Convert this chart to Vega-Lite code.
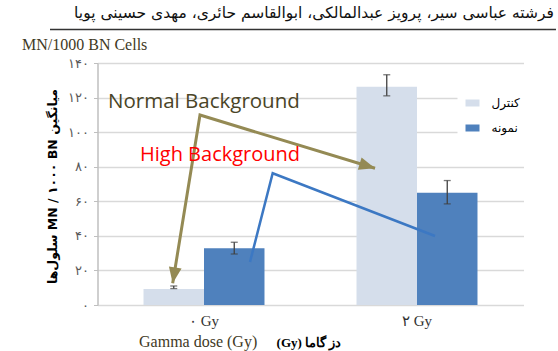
{
  "$schema": "https://vega.github.io/schema/vega-lite/v6.json",
  "width": 426,
  "height": 242,
  "autosize": {"type": "none"},
  "padding": {"left": 97.5, "top": 63, "right": 34.5, "bottom": 46},
  "background": "white",
  "config": {
    "view": {"stroke": null},
    "font": "DejaVu Sans",
    "axisY": {
      "values": [0, 20, 40, 60, 80, 100, 120, 140],
      "labelOverlap": false,
      "labelExpr": "['۰','۲۰','۴۰','۶۰','۸۰','۱۰۰','۱۲۰','۱۴۰'][round(datum.value/20)]",
      "labelFont": "DejaVu Sans", "labelFontSize": 13, "labelColor": "#595959", "labelPadding": 5,
      "tickSize": 4, "tickColor": "#bfbfbf", "domainColor": "#bfbfbf", "domainWidth": 1.5,
      "gridColor": "#d9d9d9", "gridWidth": 1.5,
      "titleFont": "DejaVu Sans", "titleFontWeight": "bold", "titleFontSize": 12.5, "titleColor": "#000000",
      "titleAngle": 270, "titleX": -45, "titleY": 123, "titleAlign": "center", "titleBaseline": "middle"
    }
  },
  "datasets": {
    "bars": [
      {"dose": "۰ Gy", "group": "کنترل", "mean": 9.3, "lo": 9.5, "hi": 11.0},
      {"dose": "۰ Gy", "group": "نمونه", "mean": 32.8, "lo": 29.5, "hi": 36.3},
      {"dose": "۲ Gy", "group": "کنترل", "mean": 126.3, "lo": 121.0, "hi": 133.2},
      {"dose": "۲ Gy", "group": "نمونه", "mean": 65.0, "lo": 58.5, "hi": 72.0}
    ],
    "olive": [
      {"i": 0, "ax": -0.294, "ay": 12.55},
      {"i": 1, "ax": -0.0376, "ay": 109.9},
      {"i": 2, "ax": 1.606, "ay": 79.1}
    ],
    "blue": [
      {"i": 0, "ax": 0.432, "ay": 24.9},
      {"i": 1, "ax": 0.645, "ay": 76.2},
      {"i": 2, "ax": 2.169, "ay": 39.9}
    ],
    "headLeft": [{"ax": -0.294, "ay": 12.55}],
    "headRight": [{"ax": 1.606, "ay": 79.1}],
    "normal": [{"t": "Normal Background", "ax": -0.901, "ay": 117.4}],
    "high": [{"t": "High Background", "ax": -0.601, "ay": 86.8}],
    "serif": [
      {"t": "MN/1000 BN Cells", "ax": -1.709, "ay": 147.5},
      {"t": "Gamma dose (Gy)", "ax": -0.61, "ay": -24.3}
    ],
    "header": [{"t": "فرشته عباسی سیر، پرویز عبدالمالکی، ابوالقاسم حائری، مهدی حسینی پویا", "ax": 3.286, "ay": 166.0}],
    "hline": [{"ax": -1.446, "ax2": 3.305, "ay": 159.4}]
  },
  "layer": [
    {
      "data": {"name": "bars"},
      "encoding": {
        "x": {
          "field": "dose", "type": "nominal", "sort": ["۰ Gy", "۲ Gy"],
          "scale": {"paddingInner": 0.432, "paddingOuter": 0.216},
          "axis": {
            "title": "(Gy) دز گاما", "titleX": 211, "titleY": 37,
            "titleFont": "Liberation Serif", "titleFontWeight": "bold", "titleFontSize": 13,
            "titleColor": "#000000", "titleBaseline": "middle", "titleAlign": "center",
            "labelAngle": 0, "labelFont": "Liberation Serif", "labelFontSize": 15,
            "labelColor": "#333333", "labelPadding": 8, "ticks": false, "domain": false, "grid": false
          }
        },
        "xOffset": {"field": "group", "type": "nominal", "sort": ["کنترل", "نمونه"], "scale": {"paddingInner": 0, "paddingOuter": 0}}
      },
      "layer": [
        {
          "mark": {"type": "bar"},
          "encoding": {
            "y": {
              "field": "mean", "type": "quantitative", "scale": {"domain": [0, 140], "nice": false},
              "title": "سلول‌ها MN / ۱۰۰۰ BN میانگین"
            },
            "color": {
              "field": "group", "type": "nominal",
              "scale": {"domain": ["کنترل", "نمونه"], "range": ["#d5deeb", "#4f81bd"]},
              "legend": {
                "title": null, "orient": "none", "legendX": 360, "legendY": 25,
                "fillColor": "white", "padding": 8,
                "symbolType": "M-1,-0.5H1V0.5H-1Z", "symbolSize": 196, "symbolStrokeWidth": 0,
                "labelFont": "DejaVu Sans", "labelFontSize": 12, "labelColor": "#000000",
                "rowPadding": 12, "labelOffset": 12
              }
            }
          }
        },
        {
          "mark": {"type": "rule", "color": "#404040", "strokeWidth": 1.3},
          "encoding": {
            "y": {"field": "lo", "type": "quantitative", "title": "سلول‌ها MN / ۱۰۰۰ BN میانگین"},
            "y2": {"field": "hi"}
          }
        },
        {
          "mark": {"type": "tick", "color": "#404040", "thickness": 1.3, "size": 7},
          "encoding": {"y": {"field": "lo", "type": "quantitative", "title": "سلول‌ها MN / ۱۰۰۰ BN میانگین"}}
        },
        {
          "mark": {"type": "tick", "color": "#404040", "thickness": 1.3, "size": 7},
          "encoding": {"y": {"field": "hi", "type": "quantitative", "title": "سلول‌ها MN / ۱۰۰۰ BN میانگین"}}
        }
      ]
    },
    {
      "encoding": {
        "x": {"field": "ax", "type": "quantitative", "scale": {"domain": [-1, 3], "nice": false, "zero": false}, "axis": null},
        "y": {"field": "ay", "type": "quantitative", "scale": {"domain": [0, 140], "nice": false, "zero": false}, "axis": null}
      },
      "layer": [
        {"data": {"name": "olive"}, "mark": {"type": "line", "color": "#948a54", "strokeWidth": 3}, "encoding": {"order": {"field": "i", "type": "quantitative"}}},
        {"data": {"name": "blue"}, "mark": {"type": "line", "color": "#3c78c3", "strokeWidth": 2.5}, "encoding": {"order": {"field": "i", "type": "quantitative"}}},
        {"data": {"name": "headLeft"}, "mark": {"type": "point", "shape": "M0,0L-0.8,2L0.8,2Z", "filled": true, "color": "#948a54", "opacity": 1, "size": 256, "angle": 189.2}, "encoding": {}},
        {"data": {"name": "headRight"}, "mark": {"type": "point", "shape": "M0,0L-0.8,2L0.8,2Z", "filled": true, "color": "#948a54", "opacity": 1, "size": 256, "angle": 106.9}, "encoding": {}},
        {"data": {"name": "normal"}, "mark": {"type": "text", "font": "Open Sans", "fontSize": 20.5, "align": "left", "baseline": "middle", "color": "#4a4527"}, "encoding": {"text": {"field": "t"}}},
        {"data": {"name": "high"}, "mark": {"type": "text", "font": "Open Sans", "fontSize": 20, "align": "left", "baseline": "middle", "color": "#ff0000"}, "encoding": {"text": {"field": "t"}}},
        {"data": {"name": "serif"}, "mark": {"type": "text", "font": "Liberation Serif", "fontSize": 16, "align": "left", "baseline": "alphabetic", "color": "#3f3a25"}, "encoding": {"text": {"field": "t"}}},
        {"data": {"name": "header"}, "mark": {"type": "text", "font": "DejaVu Sans", "fontSize": 15.5, "align": "right", "baseline": "alphabetic", "color": "#111111"}, "encoding": {"text": {"field": "t"}}},
        {"data": {"name": "hline"}, "mark": {"type": "rule", "color": "#333333", "strokeWidth": 1.5}, "encoding": {"x2": {"field": "ax2"}}}
      ]
    }
  ],
  "resolve": {"scale": {"x": "independent", "y": "independent", "color": "independent"}}
}
